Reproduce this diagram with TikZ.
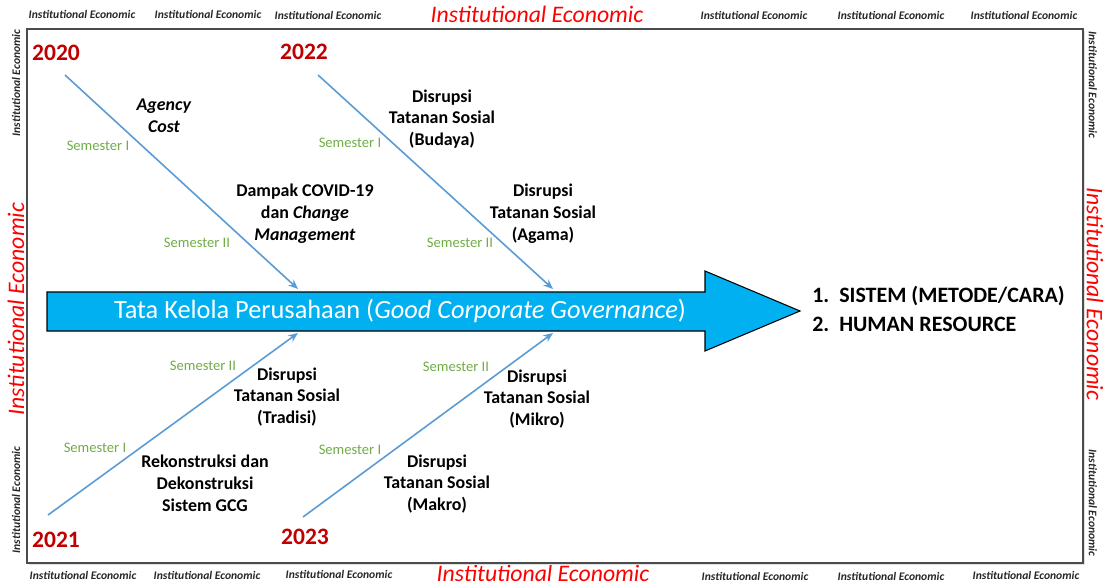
\documentclass[tikz,border=0pt]{standalone}
\usepackage{fontspec}
\setmainfont{Carlito}
\usepackage{tikz}
\usetikzlibrary{arrows.meta,positioning,calc}
\usepackage{xcolor}
\definecolor{boneblue}{HTML}{5B9BD5}
\definecolor{gcgfill}{HTML}{00B0F0}
\definecolor{yearred}{HTML}{C00000}
\definecolor{semgreen}{HTML}{70AD47}
\definecolor{marktext}{HTML}{262626}

\begin{document}
\begin{tikzpicture}[
      x=0.02cm,y=-0.02cm,
      >={Stealth[length=5.5pt,width=4.5pt]},
      year/.style={text=yearred,font=\fontsize{13.4}{16}\selectfont\bfseries,inner sep=0pt},
      cause/.style={align=center,font=\fontsize{10.2}{12.4}\selectfont\bfseries,inner sep=0pt},
      sem/.style={text=semgreen,font=\fontsize{8.3}{10}\selectfont,inner sep=0pt},
      bone/.style={->,draw=boneblue,line width=0.9pt},
      wmark/.style={text=marktext,font=\fontsize{6.6}{8}\selectfont\bfseries\itshape,inner sep=0pt},
      wmarkbig/.style={text=red,font=\fontsize{13.5}{16}\selectfont\itshape,inner sep=0pt},
      result/.style={anchor=west,font=\fontsize{12.5}{15}\selectfont\bfseries,inner sep=0pt},
      gcgarrow/.style={fill=gcgfill,draw=black,line width=0.6pt},
      frame/.style={draw=black!70,fill=white,line width=0.8pt}
    ]
    \useasboundingbox (0,0) rectangle (1112,585);

    % watermark text round the frame
    \node[wmark] (top1) at (82,14) {Institutional Economic};
    \node[wmark] (top2) at (208,14) {Institutional Economic};
    \node[wmark] (top3) at (328,15) {Institutional Economic};
    \node[wmarkbig] (top4) at (537,14) {Institutional Economic};
    \node[wmark] (top5) at (754,15) {Institutional Economic};
    \node[wmark] (top6) at (891,15) {Institutional Economic};
    \node[wmark] (top7) at (1024,15) {Institutional Economic};
    \node[wmark] (bot1) at (83,575) {Institutional Economic};
    \node[wmark] (bot2) at (207,575) {Institutional Economic};
    \node[wmark] (bot3) at (339,574) {Institutional Economic};
    \node[wmarkbig] (bot4) at (543,573) {Institutional Economic};
    \node[wmark] (bot5) at (755,576) {Institutional Economic};
    \node[wmark] (bot6) at (891,576) {Institutional Economic};
    \node[wmark] (bot7) at (1026,575) {Institutional Economic};
    \node[wmark,rotate=90] (lft1) at (16,83) {Institutional Economic};
    \node[wmarkbig,rotate=90] (lft2) at (16,309) {Institutional Economic};
    \node[wmark,rotate=90] (lft3) at (16,500) {Institutional Economic};
    \node[wmark,rotate=-90] (rgt1) at (1093,85) {Institutional Economic};
    \node[wmarkbig,rotate=-90] (rgt2) at (1095,294) {Institutional Economic};
    \node[wmark,rotate=-90] (rgt3) at (1093,503) {Institutional Economic};

    % frame
    \fill[black!12] (29,31) rectangle (1085,565);
    \draw[frame] (27,29) rectangle (1083,563);

    % main arrow
    \draw[gcgarrow] (47,292) -- (705,292) -- (705,271) -- (800,311)
      -- (705,351) -- (705,331) -- (47,331) -- cycle;
    \node[text=white,font=\fontsize{15}{18}\selectfont,inner sep=0pt] (gcg) at (400,311)
      {Tata Kelola Perusahaan (\textit{Good Corporate Governance})};
    \coordinate (end2020) at (298,289);
    \coordinate (end2022) at (553,289);
    \coordinate (end2021) at (298,333);
    \coordinate (end2023) at (553,333);

    % years
    \node[year] (y2020) at (56,53) {2020};
    \node[year] (y2022) at (304,52) {2022};
    \node[year] (y2021) at (56,540) {2021};
    \node[year] (y2023) at (305,537) {2023};
    \coordinate (start2020) at (65,75);
    \coordinate (start2022) at (318,75);
    \coordinate (start2021) at (48,515);
    \coordinate (start2023) at (303,517);

    % bones
    \draw[bone] (start2020) -- (end2020);
    \draw[bone] (start2022) -- (end2022);
    \draw[bone] (start2021) -- (end2021);
    \draw[bone] (start2023) -- (end2023);

    % semesters
    \node[sem] (s2020a) at (98,146) {Semester I};
    \node[sem] (s2020b) at (197,243) {Semester II};
    \node[sem] (s2022a) at (350,143) {Semester I};
    \node[sem] (s2022b) at (460,243) {Semester II};
    \node[sem] (s2021b) at (203,366) {Semester II};
    \node[sem] (s2021a) at (95,448) {Semester I};
    \node[sem] (s2023b) at (456,367) {Semester II};
    \node[sem] (s2023a) at (350,450) {Semester I};

    % causes
    \node[cause] (agency) at (164,116) {\textit{Agency}\\\textit{Cost}};
    \node[cause] (covid) at (305,214) {Dampak COVID-19\\dan \textit{Change}\\\textit{Management}};
    \node[cause] (budaya) at (442,119) {Disrupsi\\Tatanan Sosial\\(Budaya)};
    \node[cause] (agama) at (543,214) {Disrupsi\\Tatanan Sosial\\(Agama)};
    \node[cause] (tradisi) at (287,397) {Disrupsi\\Tatanan Sosial\\(Tradisi)};
    \node[cause] (rekon) at (205,483) {Rekonstruksi dan\\Dekonstruksi\\Sistem GCG};
    \node[cause] (mikro) at (537,399) {Disrupsi\\Tatanan Sosial\\(Mikro)};
    \node[cause] (makro) at (437,484) {Disrupsi\\Tatanan Sosial\\(Makro)};

    % outcome
    \node[result] (res1) at (812,296) {1.~~SISTEM (METODE/CARA)};
    \node[result] (res2) at (812,324) {2.~~HUMAN RESOURCE};
  \end{tikzpicture}
\end{document}
